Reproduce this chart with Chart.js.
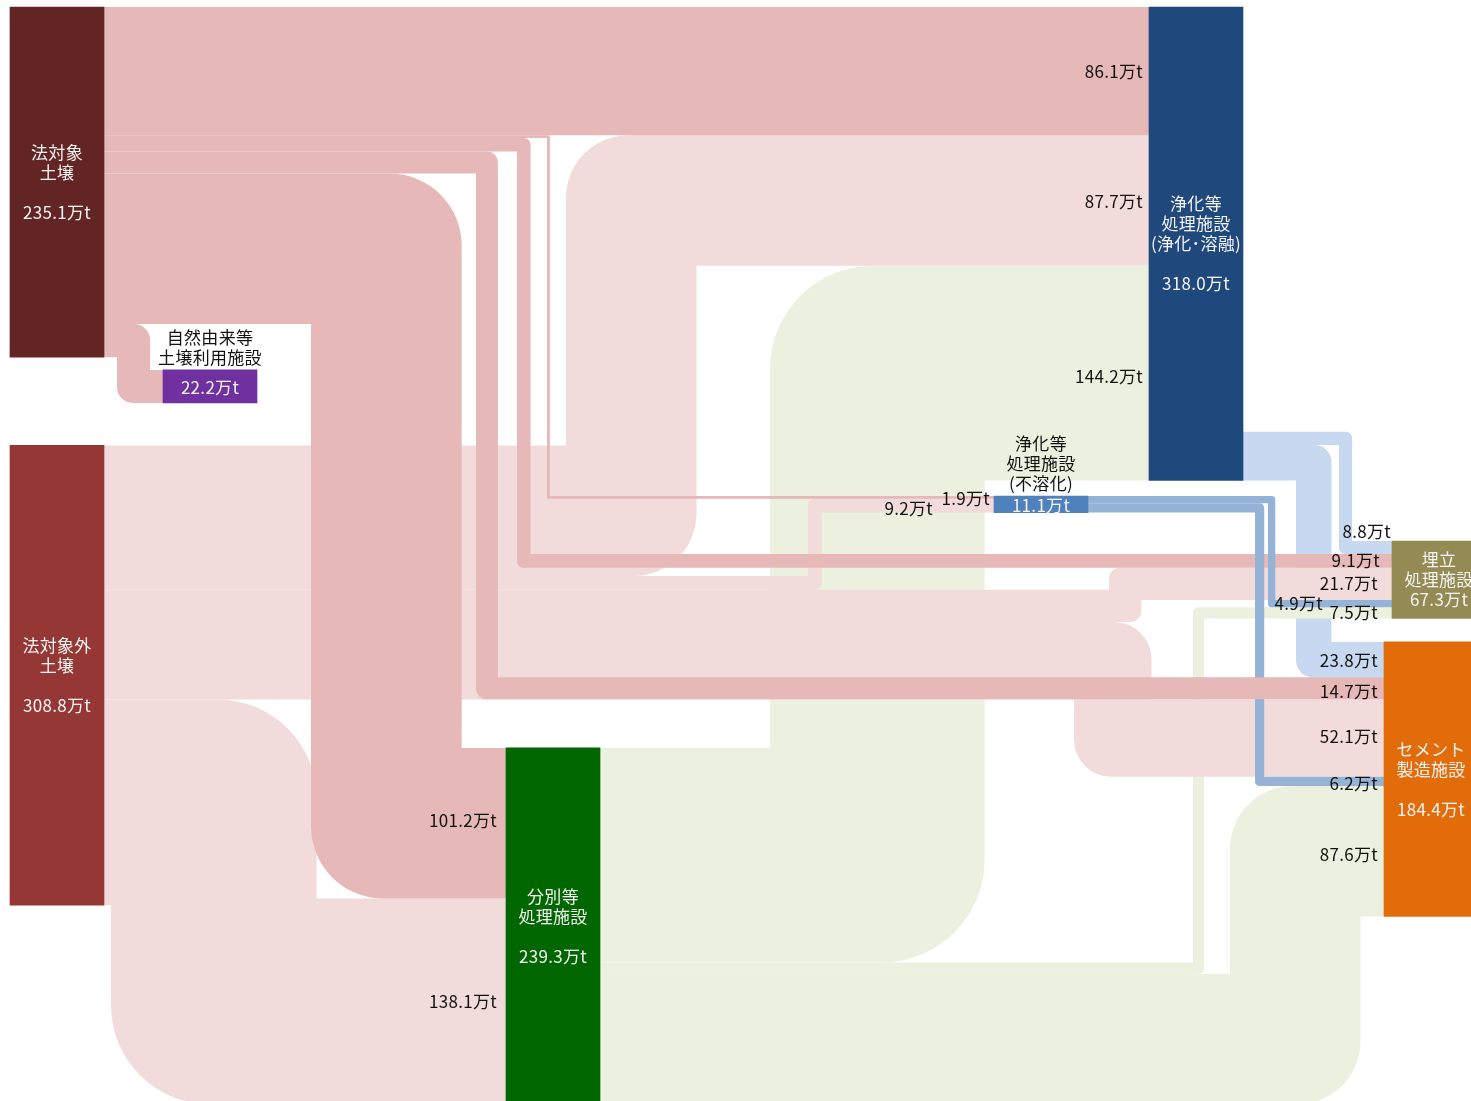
<!DOCTYPE html>
<html lang="ja">
<head>
<meta charset="UTF-8">
<title>汚染土壌の処理フロー</title>
<script src="https://cdn.jsdelivr.net/npm/chart.js"></script>
<style>
  html, body { margin: 0; padding: 0; background: #ffffff; overflow: hidden; }
  .chart-container { position: relative; width: 1471px; height: 1101px; }
</style>
</head>
<body>
<div class="chart-container">
  <canvas id="flowChart" width="1471" height="1101"></canvas>
</div>
<script>
// ---- data ----
// node order also decides how flows stack on a node
const nodeKeys = ['浄化・溶融', '法対象', '法対象外', '不溶化', '埋立', 'セメント', '分別', '自然由来'];
const nodeNames = [
  '浄化等\n処理施設\n(浄化･溶融)',
  '法対象\n土壌',
  '法対象外\n土壌',
  '浄化等\n処理施設\n(不溶化)',
  '埋立\n処理施設',
  'セメント\n製造施設',
  '分別等\n処理施設',
  '自然由来等\n土壌利用施設'
];
const nodeTotals = [318.0, 235.1, 308.8, 11.1, 67.3, 184.4, 239.3, 22.2];

// flows (万t), listed in drawing order
const flowFrom = ['浄化・溶融', '浄化・溶融', '分別', '分別', '分別',
  '法対象外', '法対象外', '法対象外', '法対象外', '法対象外',
  '法対象', '法対象', '法対象', '法対象', '法対象',
  '不溶化', '不溶化', '法対象'];
const flowTo = ['埋立', 'セメント', '浄化・溶融', '埋立', 'セメント',
  '浄化・溶融', '不溶化', '埋立', 'セメント', '分別',
  '浄化・溶融', '不溶化', '埋立', '分別', '自然由来',
  '埋立', 'セメント', 'セメント'];
const flowValues = [8.8, 23.8, 144.2, 7.5, 87.6,
  87.7, 9.2, 21.7, 52.1, 138.1,
  86.1, 1.9, 9.1, 101.2, 22.2,
  4.9, 6.2, 14.7];

// ---- layout (x in canvas units, y in 万t measured from the top) ----
const NODE_W = 94;
const nodeX = [1149, 10, 10, 994, 1392, 1384, 506, 163];
const nodeTop = [0, 0, 294.5, 328.5, 358.7, 426.5, 497.7, 243.8];
const nodeLabelAbove = [false, false, false, true, false, false, false, true];
const nodeColors = ['#1f497d', '#632523', '#953735', '#4f81bd', '#948a54', '#e36c0a', '#006600', '#7030a0'];
const flowColorBySource = ['#c6d9f1', '#e6b8b7', '#f2dcdb', '#95b3d7', null, null, '#ebf1de', null];
// x where each flow turns vertical (left edge of the bend)
const flowBendX = [1339, 1296, 770, 1193, 1230,
  566, 808, 1109, 1074, 111,
  1000, 547, 517, 311, 117,
  1268, 1255, 476];
// value label nudges [dx, dy] in px, null = no label
const flowLabelShift = [[5, -16], [0, 1], [0, 3], [-8, 0], [0, 3],
  [0, 1], [-55, 3], [-8, 0], [0, -1], [-3, 0],
  [0, 0], [2, 1], [-6, 0], [-3, -3], null,
  [-63, 0], [0, 2], [0, 3]];

const FONT = '17px "Noto Sans CJK JP", "Noto Sans", sans-serif';
const LINE_H = 20;

// ---- stacking ----
const src = flowFrom.map(k => nodeKeys.indexOf(k));
const tgt = flowTo.map(k => nodeKeys.indexOf(k));
const nodeIn = nodeKeys.map(() => 0);
const nodeOut = nodeKeys.map(() => 0);
flowValues.forEach((v, i) => { nodeOut[src[i]] += v; nodeIn[tgt[i]] += v; });
const nodeSize = nodeKeys.map((k, i) => Math.max(nodeIn[i], nodeOut[i]));

const flowSrcY = [], flowTgtY = [];
const flowIdx = flowValues.map((v, i) => i);
nodeKeys.forEach((k, n) => {
  // outgoing flows sit at the bottom of the node
  let yo = nodeTop[n] + nodeSize[n] - nodeOut[n];
  flowIdx.filter(i => src[i] === n).sort((a, b) => tgt[a] - tgt[b]).forEach(i => {
    flowSrcY[i] = yo; yo += flowValues[i];
  });
  let yi = nodeTop[n];
  flowIdx.filter(i => tgt[i] === n).sort((a, b) => src[a] - src[b]).forEach(i => {
    flowTgtY[i] = yi; yi += flowValues[i];
  });
});

// ---- drawing helpers ----
function flowPath(ctx, x0, x1, bx0, ys0, ys1, yt0, yt1) {
  const w = ys1 - ys0;
  const bx1 = bx0 + w;
  const dy = yt0 - ys0;
  ctx.beginPath();
  if (Math.abs(dy) < 0.5) {
    ctx.rect(x0, ys0, x1 - x0, w);
    return;
  }
  const r = Math.min(w * 0.48, Math.abs(dy) / 2);
  if (dy > 0) {
    ctx.moveTo(x0, ys0);
    ctx.arcTo(bx1, ys0, bx1, ys0 + r, r);
    ctx.lineTo(bx1, yt0);
    ctx.lineTo(x1, yt0);
    ctx.lineTo(x1, yt1);
    ctx.arcTo(bx0, yt1, bx0, yt1 - r, r);
    ctx.lineTo(bx0, ys1);
    ctx.lineTo(x0, ys1);
  } else {
    ctx.moveTo(x0, ys0);
    ctx.lineTo(bx0, ys0);
    ctx.arcTo(bx0, yt0, bx0 + r, yt0, r);
    ctx.lineTo(x1, yt0);
    ctx.lineTo(x1, yt1);
    ctx.lineTo(bx1, yt1);
    ctx.arcTo(bx1, ys1, bx1 - r, ys1, r);
    ctx.lineTo(x0, ys1);
  }
  ctx.closePath();
}

const flowPlugin = {
  id: 'flows',
  beforeDatasetsDraw(chart) {
    const { ctx, scales: { x, y } } = chart;
    ctx.save();
    flowValues.forEach((v, i) => {
      const x0 = x.getPixelForValue(nodeX[src[i]] + NODE_W);
      const x1 = x.getPixelForValue(nodeX[tgt[i]]);
      const bx0 = x.getPixelForValue(flowBendX[i]);
      const ys0 = y.getPixelForValue(flowSrcY[i]);
      const ys1 = y.getPixelForValue(flowSrcY[i] + v);
      const yt0 = y.getPixelForValue(flowTgtY[i]);
      const yt1 = y.getPixelForValue(flowTgtY[i] + v);
      flowPath(ctx, x0, x1, bx0, ys0, ys1, yt0, yt1);
      ctx.fillStyle = flowColorBySource[src[i]];
      ctx.fill();
    });
    ctx.restore();
  },
  afterDatasetsDraw(chart) {
    const { ctx, scales: { x, y } } = chart;
    ctx.save();
    ctx.font = FONT;
    ctx.letterSpacing = '0.3px';
    ctx.textBaseline = 'middle';

    // flow values, next to the target node
    ctx.textAlign = 'right';
    ctx.fillStyle = '#111111';
    flowValues.forEach((v, i) => {
      const shift = flowLabelShift[i];
      if (!shift) return;
      const x1 = x.getPixelForValue(nodeX[tgt[i]]);
      const yc = (y.getPixelForValue(flowTgtY[i]) + y.getPixelForValue(flowTgtY[i] + v)) / 2;
      ctx.fillText(v.toFixed(1) + '万t', x1 - 6 + shift[0], yc + shift[1]);
    });

    // node names and totals
    ctx.textAlign = 'center';
    nodeKeys.forEach((k, n) => {
      const cx = (x.getPixelForValue(nodeX[n]) + x.getPixelForValue(nodeX[n] + NODE_W)) / 2;
      const top = y.getPixelForValue(nodeTop[n]);
      const bottom = y.getPixelForValue(nodeTop[n] + nodeSize[n]);
      const total = nodeTotals[n].toFixed(1) + '万t';
      const names = nodeNames[n].split('\n');
      if (nodeLabelAbove[n]) {
        ctx.fillStyle = '#111111';
        names.forEach((t, j) => ctx.fillText(t, cx, top - 12 - (names.length - 1 - j) * LINE_H));
        ctx.fillStyle = '#f4f4f4';
        ctx.fillText(total, cx, (top + bottom) / 2 + 1);
      } else {
        const lines = bottom - top > 120 ? names.concat(['', total]) : names.concat([total]);
        const first = (top + bottom) / 2 - (lines.length - 1) * LINE_H / 2;
        ctx.fillStyle = '#f4f4f4';
        lines.forEach((t, j) => ctx.fillText(t, cx, first + j * LINE_H));
      }
    });
    ctx.restore();
  }
};

const ctx = document.getElementById('flowChart').getContext('2d');
const flowChart = new Chart(ctx, {
  type: 'bar',
  data: {
    datasets: [{
      data: nodeKeys.map((k, n) => ({ x: nodeX[n] + NODE_W / 2, y: [nodeTop[n], nodeTop[n] + nodeSize[n]] })),
      backgroundColor: nodeColors,
      barThickness: NODE_W,
      borderWidth: 0,
      borderSkipped: false
    }]
  },
  options: {
    responsive: false,
    animation: false,
    events: [],
    layout: { padding: 0 },
    plugins: {
      legend: { display: false },
      tooltip: { enabled: false }
    },
    scales: {
      x: { type: 'linear', min: 0, max: 1471, offset: false, display: false },
      y: { type: 'linear', min: -4.7, max: 734.87, reverse: true, display: false }
    }
  },
  plugins: [flowPlugin]
});
</script>
</body>
</html>
